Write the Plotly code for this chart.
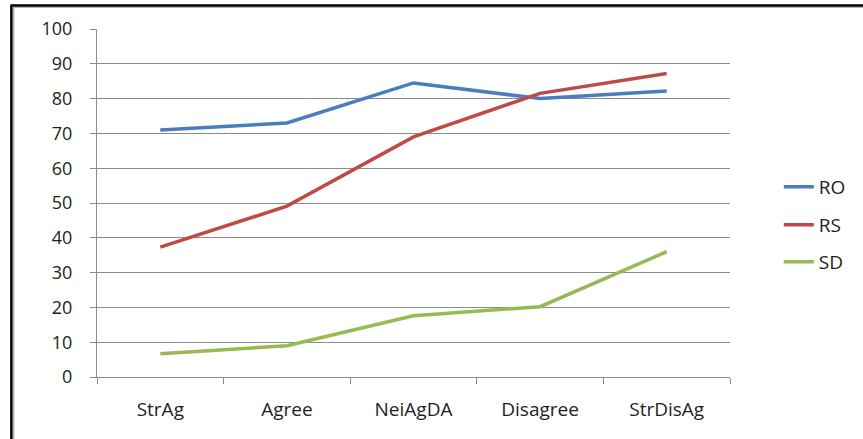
import plotly.graph_objects as go

categories = ["StrAg", "Agree", "NeiAgDA", "Disagree", "StrDisAg"]
ro = [71.0, 73.0, 84.5, 80.0, 82.2]
rs = [37.3, 49.1, 69.0, 81.5, 87.2]
sd = [6.7, 9.0, 17.6, 20.2, 36.0]
series_names = ["RO", "RS", "SD"]
colors = ["#4a7ebb", "#be4b48", "#98b954"]

W, H = 863, 439
L, R, T, B = 97, 733, 29, 377  # plot area pixels

def px_x(p):
    return (p - L) / (R - L)

def px_y(p):
    return (B - p) / (B - T)

fig = go.Figure()
legend_ids = ["legend", "legend2", "legend3"]
for name, vals, col, lg in zip(series_names, [ro, rs, sd], colors, legend_ids):
    fig.add_trace(go.Scatter(x=categories, y=vals, mode="lines", name=name,
                             line=dict(color=col, width=3.5), legend=lg))

fam = "'Open Sans', 'Noto Sans', sans-serif"
font = dict(family=fam, size=18, color="#1e1e1e")
font_x = dict(family=fam, size=19, color="#1e1e1e")
legend_y = [187, 225, 262]
layout_legends = {}
for lg, yy in zip(legend_ids, legend_y):
    layout_legends[lg] = dict(x=px_x(782), y=px_y(yy), xanchor="left", yanchor="middle",
                              bgcolor="rgba(0,0,0,0)", font=font_x, itemwidth=30)

gridc = "#8c8c8c"
fig.update_layout(
    width=W, height=H,
    margin=dict(l=L, r=W - R, t=T, b=H - B),
    plot_bgcolor="white", paper_bgcolor="white",
    font=font,
    showlegend=True,
    **layout_legends,
    xaxis=dict(type="category", range=[-0.5, 4.5], showgrid=False,
               showline=True, linecolor=gridc, linewidth=1,
               ticks="outside", tickson="boundaries", ticklen=6, tickcolor=gridc,
               tickfont=font_x, ticklabelstandoff=15),
    yaxis=dict(range=[0, 100], dtick=10, showgrid=True, gridcolor=gridc, gridwidth=1,
               showline=True, linecolor=gridc, linewidth=1, zeroline=False,
               ticks="outside", ticklen=6, tickcolor=gridc,
               tickfont=font, ticklabelstandoff=14),
)

# outer frame (black line with a gray inner line) on the left and top
shapes = [
    dict(type="line", xref="paper", yref="paper", x0=px_x(11), x1=px_x(11), y0=px_y(5.5), y1=px_y(445),
         line=dict(color="black", width=2.5)),
    dict(type="line", xref="paper", yref="paper", x0=px_x(13.3), x1=px_x(13.3), y0=px_y(7.5), y1=px_y(445),
         line=dict(color="#b0b0b0", width=1.5)),
    dict(type="line", xref="paper", yref="paper", x0=px_x(10), x1=px_x(870), y0=px_y(5.5), y1=px_y(5.5),
         line=dict(color="black", width=2.5)),
    dict(type="line", xref="paper", yref="paper", x0=px_x(12.5), x1=px_x(870), y0=px_y(7.5), y1=px_y(7.5),
         line=dict(color="#b0b0b0", width=1)),
]
fig.update_layout(shapes=shapes)

# partially cut caption glyph at the very top
fig.add_annotation(text="g", xref="paper", yref="paper", x=px_x(42), y=px_y(-2),
                   xanchor="center", yanchor="bottom", showarrow=False,
                   font=dict(family=fam, size=18, color="#1e1e1e"))

fig.write_html("out.html")
